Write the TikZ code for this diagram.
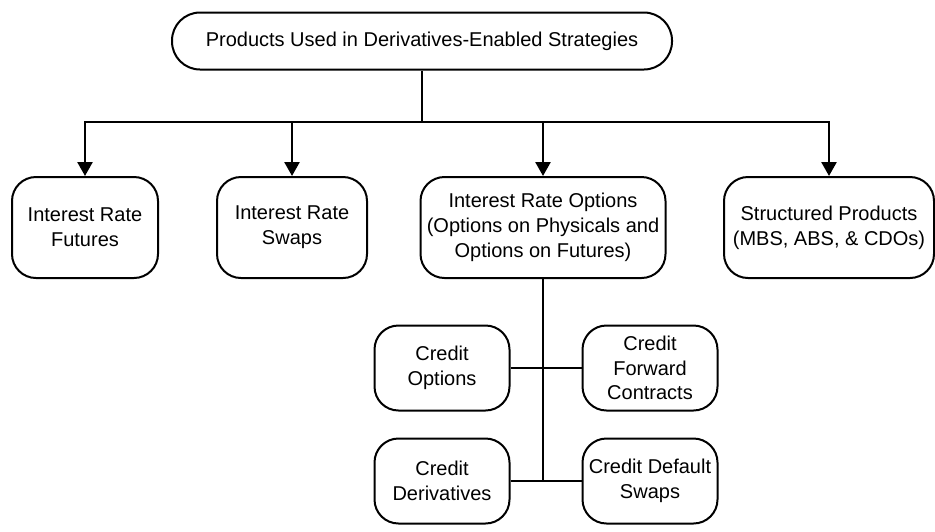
\documentclass[tikz,border=0pt]{standalone}
\usepackage{fontspec}
\setmainfont{Liberation Sans}
\usetikzlibrary{arrows.meta}

\begin{document}
\begin{tikzpicture}[
    x=0.5pt,
    y=-0.5pt,
    >={Triangle[width=7.5pt,length=7pt]},
    font=\fontsize{10pt}{12.4pt}\selectfont,
    box/.style={
        draw,
        line width=1pt,
        rounded corners=12pt,
        align=center,
        inner sep=0pt
    },
    link/.style={
        line width=1.3pt
    }
]

    \useasboundingbox (0,0) rectangle (935,531);

    % Arrel
    \node[box, rounded corners=14pt, minimum width=250pt, minimum height=28.5pt]
        (prod) at (422,41) {Products Used in Derivatives-Enabled Strategies};

    % Primer nivell
    \node[box, minimum width=73pt, minimum height=50.5pt]
        (irf) at (85,227.5) {Interest Rate\\Futures};
    \node[box, minimum width=75pt, minimum height=50.5pt]
        (irs) at (292,227.5) {Interest Rate\\Swaps};
    \node[box, minimum width=122.5pt, minimum height=50.5pt]
        (iro) at (543,227.5) {Interest Rate Options\\(Options on Physicals and\\Options on Futures)};
    \node[box, minimum width=105pt, minimum height=50.5pt]
        (sp) at (829,227.5) {Structured Products\\(MBS, ABS, \& CDOs)};

    % Credit
    \node[box, minimum width=67.5pt, minimum height=42.5pt]
        (co) at (442,368) {Credit\\Options};
    \node[box, minimum width=67.5pt, minimum height=42.5pt]
        (cfc) at (650,368) {Credit\\Forward\\Contracts};
    \node[box, minimum width=67.5pt, minimum height=42.5pt]
        (cd) at (442,481) {Credit\\Derivatives};
    \node[box, minimum width=67.5pt, minimum height=42.5pt]
        (cds) at (650,481) {Credit Default\\Swaps};

    % Repartidor
    \coordinate (split) at (422,122);
    \coordinate (trunk) at (543,481);

    \draw[link] (prod) -- (split);
    \draw[link, ->] (split) -| (irf);
    \draw[link, ->] (split) -| (irs);
    \draw[link, ->] (split) -| (iro);
    \draw[link, ->] (split) -| (sp);

    % Tronc
    \draw[link] (iro) -- (trunk);
    \draw[link] (co) -- (cfc);
    \draw[link] (cd) -- (cds);

\end{tikzpicture}
\end{document}
